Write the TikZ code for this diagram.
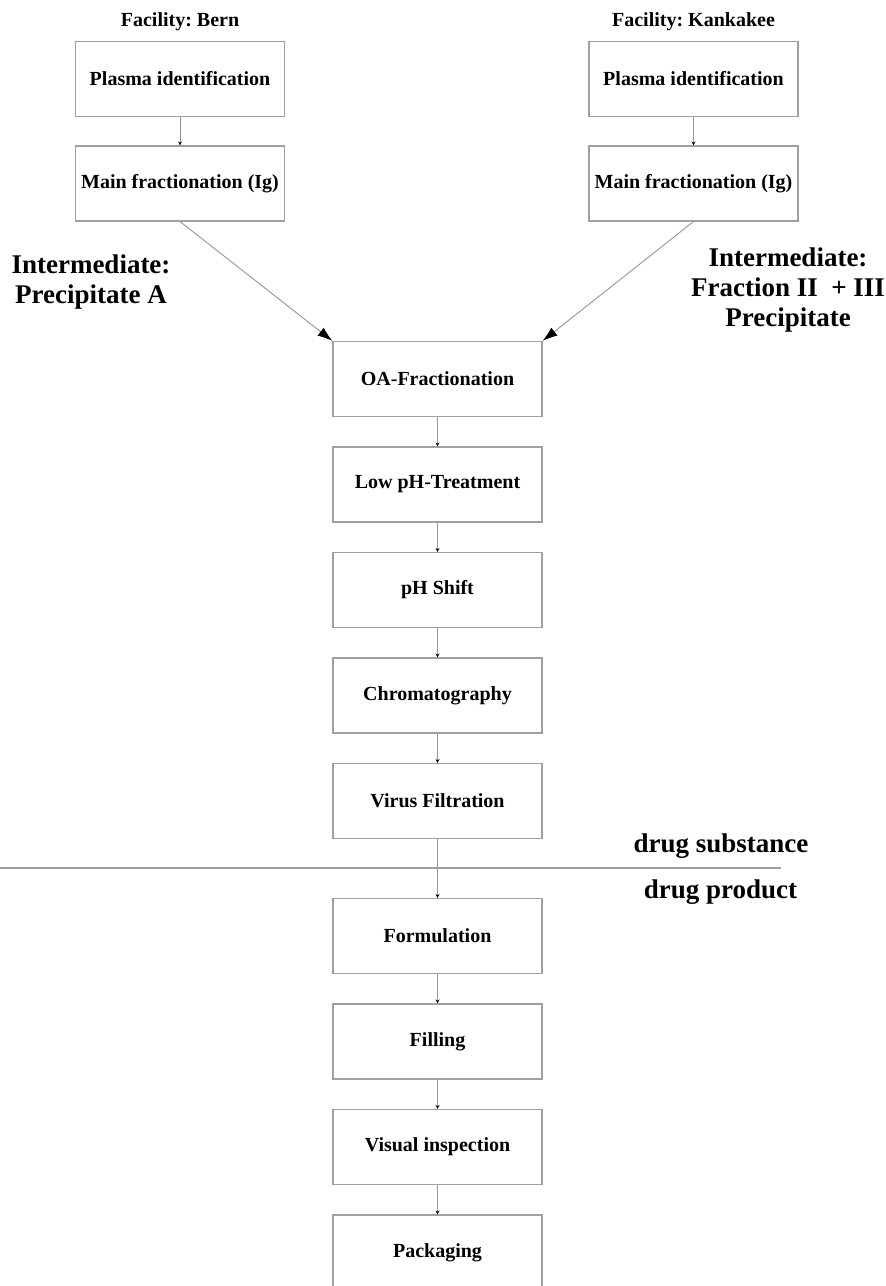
\documentclass[tikz,border=0pt]{standalone}
\usepackage{fontspec}
\setmainfont{Liberation Serif}
\usetikzlibrary{arrows.meta}
\frenchspacing
\definecolor{boxgray}{RGB}{160,160,160}
\definecolor{linegray}{RGB}{150,150,150}
\tikzset{
  stepbox/.style={draw=boxgray, line width=1.1pt, minimum width=209pt, minimum height=75pt, inner sep=0pt,
    font=\fontsize{20}{24}\selectfont\bfseries},
  smalltxt/.style={font=\fontsize{20}{24}\selectfont\bfseries, inner sep=0pt},
  bigtxt/.style={font=\fontsize{27}{30}\selectfont\bfseries, align=center, inner sep=0pt},
  conn/.style={draw=linegray, line width=0.9pt, -{Stealth[length=4pt,width=4pt,color=black]}},
  bigconn/.style={draw=linegray, line width=0.9pt, -{Latex[length=15pt,width=10pt,color=black]}}
}
\begin{document}
\begin{tikzpicture}[x=1pt,y=-1pt]
\clip (0,0) rectangle (886,1286);
\fill[white] (0,0) rectangle (886,1286);
% facility labels
\node[smalltxt] (fb) at (180,22) {Facility: Bern};
\node[smalltxt] (fk) at (693.5,22) {Facility: Kankakee};
% top boxes
\node[stepbox] (pb) at (180,79) {Plasma identification};
\node[stepbox] (mb) at (180,183.5) {Main fractionation (Ig)};
\node[stepbox] (pk) at (693.5,79) {Plasma identification};
\node[stepbox] (mk) at (693.5,183.5) {Main fractionation (Ig)};
% intermediates
\node[bigtxt] (ia) at (91,282) {Intermediate:\\Precipitate A};
\node[bigtxt] (ib) at (788,290) {Intermediate:\\Fraction II~ + III\\Precipitate};
% middle column
\node[stepbox] (oa) at (437.5,379) {OA-Fractionation};
\node[stepbox] (lp) at (437.5,484.5) {Low pH-Treatment};
\node[stepbox] (ps) at (437.5,590) {pH Shift};
\node[stepbox] (ch) at (437.5,695.5) {Chromatography};
\node[stepbox] (vf) at (437.5,801) {Virus Filtration};
\node[stepbox] (fo) at (437.5,936) {Formulation};
\node[stepbox] (fi) at (437.5,1041.5) {Filling};
\node[stepbox] (vi) at (437.5,1147) {Visual inspection};
\node[stepbox] (pa) at (437.5,1252.5) {Packaging};
% divider
\coordinate (dl) at (0,868);
\coordinate (dr) at (781,868);
\draw[draw=boxgray, line width=1.1pt] (dl) -- (dr);
\node[bigtxt] (ds) at (721,846) {drug substance};
\node[bigtxt] (dp) at (720.5,892) {drug product};
% connectors
\draw[conn] (pb.south) -- (mb.north);
\draw[conn] (pk.south) -- (mk.north);
\draw[bigconn] (mb.south) -- (oa.north west);
\draw[bigconn] (mk.south) -- (oa.north east);
\draw[conn] (oa.south) -- (lp.north);
\draw[conn] (lp.south) -- (ps.north);
\draw[conn] (ps.south) -- (ch.north);
\draw[conn] (ch.south) -- (vf.north);
\draw[conn] (vf.south) -- (fo.north);
\draw[conn] (fo.south) -- (fi.north);
\draw[conn] (fi.south) -- (vi.north);
\draw[conn] (vi.south) -- (pa.north);
\end{tikzpicture}
\end{document}
